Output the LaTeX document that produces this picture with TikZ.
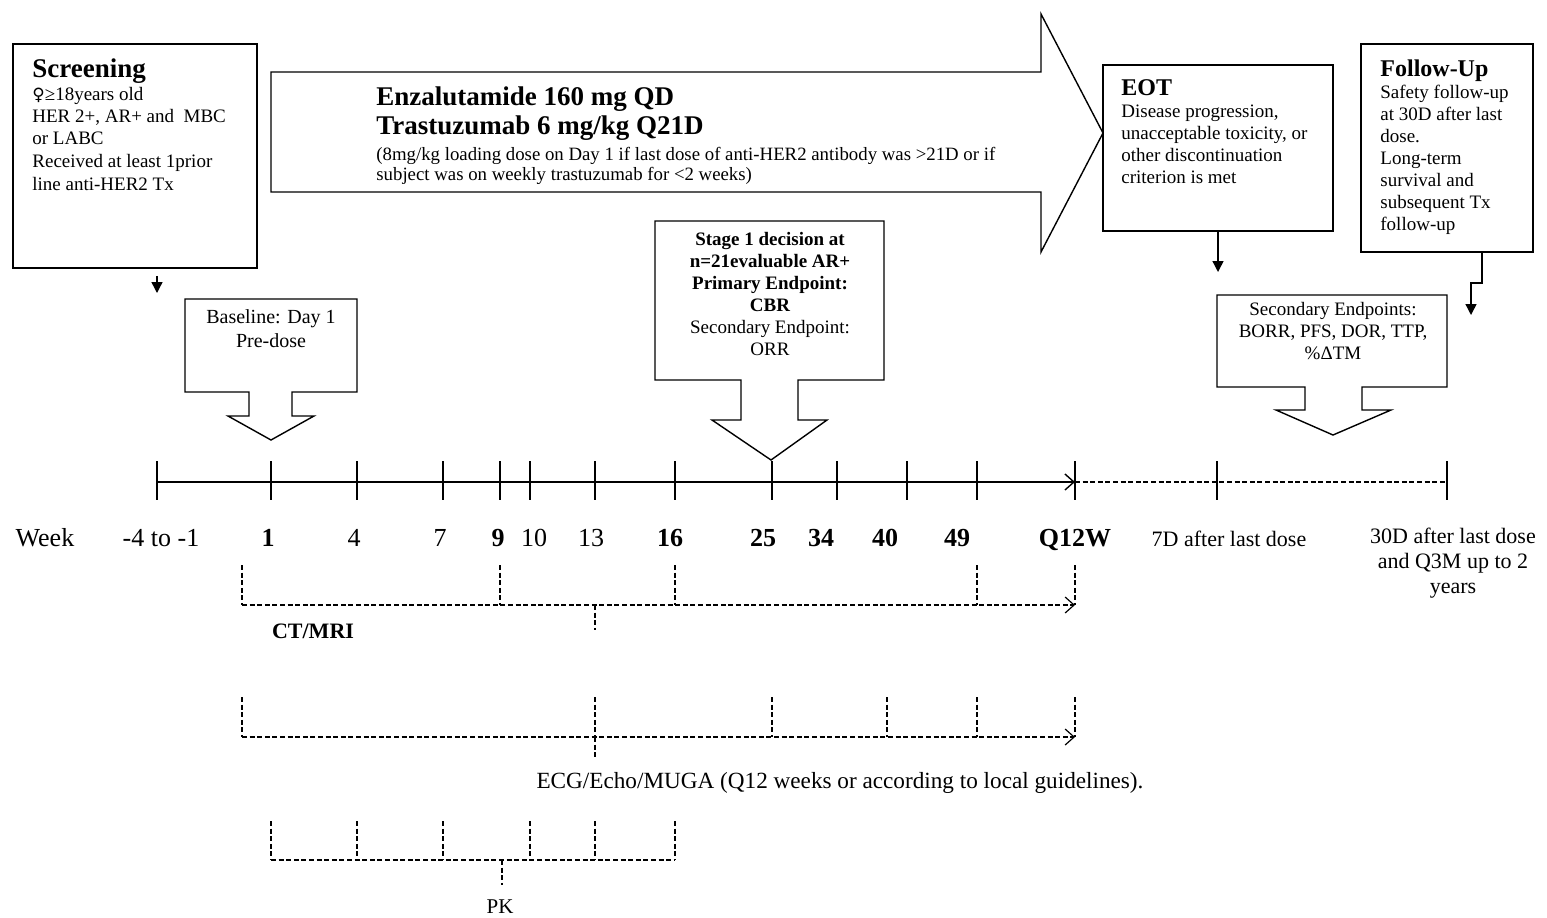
\documentclass[tikz,border=0pt]{standalone}
\usepackage{fontspec}
\setmainfont{Liberation Serif}
\newfontfamily\symfont{DejaVu Sans}
\usetikzlibrary{arrows.meta,calc,fit,positioning}

\tikzset{
  box/.style={draw, line width=0.8pt, inner sep=0pt},
  boxtxt/.style={inner sep=0pt, align=left, font=\fontsize{9.5}{11}\selectfont},
  calltxt/.style={inner sep=0pt, align=center, font=\fontsize{9.5}{11}\selectfont},
  callout/.style={draw, line width=0.7pt, line join=miter},
  wk/.style={inner sep=0pt, anchor=base, font=\fontsize{13}{15}\selectfont},
  wkb/.style={inner sep=0pt, anchor=base, font=\fontsize{13}{15}\selectfont\bfseries},
  wks/.style={inner sep=0pt, align=center, font=\fontsize{11}{12.5}\selectfont},
  bracket/.style={line width=0.6pt, dash pattern=on 2.5pt off 1.3pt},
  down/.style={-{Triangle[length=5.5pt,width=5.5pt]}, line width=0.7pt},
  openarr/.style={-{Straight Barb[length=4.5pt,width=8pt]}}
}

\begin{document}
\begin{tikzpicture}[x=0.5pt, y=-0.5pt]
  \useasboundingbox (0,0) rectangle (1547,917);

  % Screening
  \node[box, fit={(13,44) (257,268)}] (screen) {};
  \node[boxtxt, anchor=north west] (screentxt) at (32,58)
    {{\fontsize{13.5}{11}\selectfont\bfseries Screening}\\[0.5pt]
     {\symfont\fontsize{8.5}{11}\selectfont ♀}≥18years old\\
     HER 2+, AR+ and\ \ MBC\\
     or LABC\\[0.5pt]
     Received at least 1prior\\[0.5pt]
     line anti-HER2 Tx};
  \coordinate (scrEnd) at (157,293);
  \draw[down] ($(screen.south -| scrEnd)+(0,7)$) -- (scrEnd);

  % Treatment arrow
  \draw[line width=0.7pt] (271,72) -- (1041,72) -- (1041,14) -- (1103,133)
    -- (1041,252) -- (1041,192) -- (271,192) -- cycle;
  \node[inner sep=0pt, anchor=north west, align=left,
        font=\fontsize{13.5}{14.5}\selectfont\bfseries] (drug) at (376,86)
    {Enzalutamide 160 mg QD\\ Trastuzumab 6 mg/kg Q21D};
  \node[inner sep=0pt, anchor=north west, align=left,
        font=\fontsize{9.4}{10}\selectfont] (dose) at (376,147)
    {(8mg/kg loading dose on Day 1 if last dose of anti-HER2 antibody was >21D or if\\
     subject was on weekly trastuzumab for <2 weeks)};

  % EOT
  \node[box, fit={(1103,65) (1333,231)}] (eot) {};
  \node[boxtxt, anchor=north west] (eottxt) at (1121,79)
    {{\fontsize{12}{11}\selectfont\bfseries EOT}\\
     Disease progression,\\
     unacceptable toxicity, or\\
     other discontinuation\\
     criterion is met};
  \coordinate (eotEnd) at (1218,272);
  \draw[down] (eot.south -| eotEnd) -- (eotEnd);

  % Follow-up
  \node[box, fit={(1361,44) (1533,252)}] (fu) {};
  \node[boxtxt, anchor=north west] (futxt) at (1380,59)
    {{\fontsize{12}{11}\selectfont\bfseries Follow-Up}\\
     Safety follow-up\\
     at 30D after last\\
     dose.\\
     Long-term\\
     survival and\\
     subsequent Tx\\
     follow-up};
  \coordinate (fuBend) at (1482,283);
  \coordinate (fuEnd) at (1471,315);
  \draw[down] (fu.south -| fuBend) -- (fuBend) -| (fuEnd);

  % Callouts
  \draw[callout] (185,299) -- (357,299) -- (357,392) -- (292,392) -- (292,416)
    -- (314,416) -- (271,440) -- (228,416) -- (249,416) -- (249,392)
    -- (185,392) -- cycle;
  \node[calltxt, font=\fontsize{10}{12}\selectfont, anchor=north] (basetxt) at (271,309)
    {Baseline: Day 1\\ Pre-dose};

  \draw[callout] (655,221) -- (884,221) -- (884,380) -- (798,380) -- (798,420)
    -- (827,420) -- (771,460) -- (712,420) -- (741,420) -- (741,380)
    -- (655,380) -- cycle;
  \node[calltxt, anchor=north] (stagetxt) at (770,232)
    {\textbf{Stage 1 decision at}\\
     \textbf{n=21evaluable AR+}\\
     \textbf{Primary Endpoint:}\\
     \textbf{CBR}\\
     Secondary Endpoint:\\
     ORR};

  \draw[callout] (1217,295) -- (1447,295) -- (1447,387) -- (1362,387) -- (1362,410)
    -- (1391,410) -- (1333,435) -- (1276,410) -- (1305,410) -- (1305,387)
    -- (1217,387) -- cycle;
  \node[calltxt, anchor=north] (sectxt) at (1333,302)
    {Secondary Endpoints:\\ BORR, PFS, DOR, TTP,\\ \%ΔTM};

  % Timeline
  \draw[line width=0.7pt, openarr] (157,482) -- (1075,482);
  \draw[line width=0.6pt, dash pattern=on 2.5pt off 1.3pt] (1075,482) -- (1447,482);
  \foreach \x/\w in {157/0.6, 271/1.4, 357/0.6, 443/0.6, 500/1.4, 530/0.6,
                     595/0.6, 675/1.4, 772/1.4, 837/1.4, 907/1.4, 977/1.4,
                     1075/0.6, 1217/1.4, 1447/1.4}
    \draw[line width=\w pt] (\x,461) -- (\x,500);

  \node[wk] (lWeek) at (45,546) {Week};
  \node[wk] (lPre) at (161,546) {-4 to -1};
  \foreach \x/\t in {354/4, 440/7, 534/10, 591/13}
    \node[wk] (l\t) at (\x,546) {\t};
  \foreach \x/\t in {268/1, 498/9, 670/16, 763/25, 821/34, 885/40, 957/49, 1075/Q12W}
    \node[wkb] (l\t) at (\x,546) {\t};
  \node[wks, anchor=base] (lSeven) at (1229,546) {7D after last dose};
  \node[wks, anchor=north] (lThirty) at (1453,528)
    {30D after last dose\\ and Q3M up to 2\\ years};

  % CT/MRI
  \foreach \x in {242,500,675,977,1075}
    \draw[bracket] (\x,565) -- (\x,605);
  \draw[bracket, openarr] (242,605) -- (1075,605);
  \draw[bracket] (595,605) -- (595,630);
  \node[inner sep=0pt, font=\fontsize{11}{12}\selectfont\bfseries] (ctmri) at (313,631) {CT/MRI};

  % ECG/Echo/MUGA
  \foreach \x in {242,595,772,887,977,1075}
    \draw[bracket] (\x,697) -- (\x,737);
  \draw[bracket, openarr] (242,737) -- (1075,737);
  \draw[bracket] (595,737) -- (595,757);
  \node[inner sep=0pt, font=\fontsize{11.6}{12}\selectfont] (ecg) at (840,783)
    {ECG/Echo/MUGA (Q12 weeks or according to local guidelines).};

  % PK
  \foreach \x in {271,357,443,530,595,675}
    \draw[bracket] (\x,821) -- (\x,860);
  \draw[bracket] (271,860) -- (675,860);
  \draw[bracket] (502,860) -- (502,885);
  \node[inner sep=0pt, font=\fontsize{10.5}{12}\selectfont] (pk) at (500,907) {PK};
\end{tikzpicture}
\end{document}
